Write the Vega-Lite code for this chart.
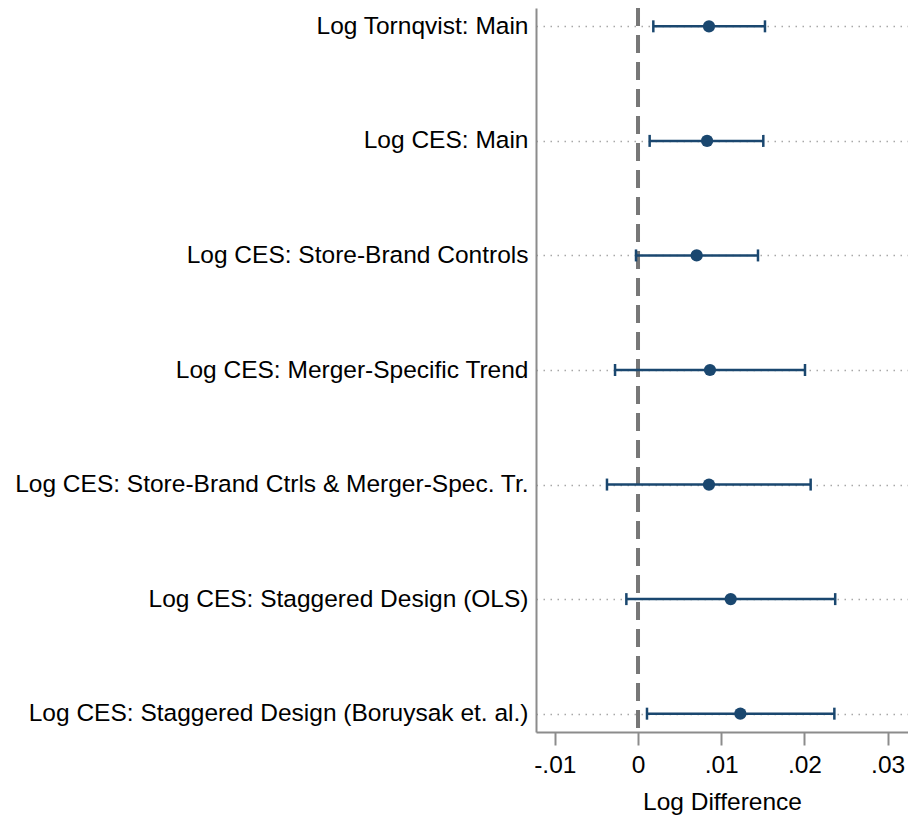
{
  "$schema": "https://vega.github.io/schema/vega-lite/v6.json",
  "autosize": "none",
  "padding": {"left": 536, "top": 8, "right": 0, "bottom": 87},
  "width": 372,
  "height": 724,
  "background": "white",
  "config": {
    "font": "Liberation Sans",
    "view": {"stroke": null}
  },
  "datasets": {
    "est": [
      {"label": "Log Tornqvist: Main", "b": 0.00853, "lo": 0.00184, "hi": 0.01526},
      {"label": "Log CES: Main", "b": 0.0083, "lo": 0.0014, "hi": 0.01506},
      {"label": "Log CES: Store-Brand Controls", "b": 0.00705, "lo": -0.00024, "hi": 0.01442},
      {"label": "Log CES: Merger-Specific Trend", "b": 0.00865, "lo": -0.00276, "hi": 0.02007},
      {"label": "Log CES: Store-Brand Ctrls & Merger-Spec. Tr.", "b": 0.00853, "lo": -0.00373, "hi": 0.02075},
      {"label": "Log CES: Staggered Design (OLS)", "b": 0.01114, "lo": -0.0014, "hi": 0.0237},
      {"label": "Log CES: Staggered Design (Boruysak et. al.)", "b": 0.0123, "lo": 0.00108, "hi": 0.0236}
    ],
    "ref": [{"x": 0}]
  },
  "layer": [
    {
      "data": {"name": "est"},
      "mark": {"type": "rule", "opacity": 0},
      "encoding": {
        "y": {
          "field": "label", "type": "nominal", "sort": null,
          "scale": {"type": "point", "padding": 0.16},
          "axis": {
            "title": null, "ticks": false, "labelPadding": 8, "labelFontSize": 24.5,
            "labelColor": "black", "labelLimit": 700,
            "domainColor": "#8c8c8c", "domainWidth": 2,
            "grid": true, "gridColor": "#a8a8a8", "gridDash": [1.5, 5.5], "gridWidth": 1.3
          }
        },
        "x": {
          "field": "b", "type": "quantitative",
          "scale": {"domain": [-0.01226, 0.03245], "nice": false, "zero": false},
          "axis": {
            "title": "Log Difference", "titleFontSize": 24.5, "titleFontWeight": "normal",
            "titleColor": "black", "titlePadding": 14,
            "values": [-0.01, 0, 0.01, 0.02, 0.03],
            "labelExpr": "datum.value == 0 ? '0' : replace(replace(format(datum.value, '.2f'), '0.', '.'), '−', '-')",
            "labelFontSize": 24.5, "labelColor": "black", "labelPadding": 8,
            "grid": false, "domainColor": "#8c8c8c", "domainWidth": 2,
            "tickColor": "#8c8c8c", "tickWidth": 2, "tickSize": 13
          }
        }
      }
    },
    {
      "data": {"name": "ref"},
      "mark": {"type": "rule", "color": "#777777", "strokeWidth": 4, "strokeDash": [18, 9]},
      "encoding": {"x": {"field": "x", "type": "quantitative"}}
    },
    {
      "data": {"name": "est"},
      "mark": {"type": "rule", "color": "#1a476f", "strokeWidth": 2.5},
      "encoding": {
        "y": {"field": "label", "type": "nominal", "sort": null},
        "x": {"field": "lo", "type": "quantitative"},
        "x2": {"field": "hi"}
      }
    },
    {
      "data": {"name": "est"},
      "mark": {"type": "tick", "color": "#1a476f", "opacity": 1, "thickness": 2.5, "size": 12, "orient": "vertical"},
      "encoding": {
        "y": {"field": "label", "type": "nominal", "sort": null},
        "x": {"field": "lo", "type": "quantitative"}
      }
    },
    {
      "data": {"name": "est"},
      "mark": {"type": "tick", "color": "#1a476f", "opacity": 1, "thickness": 2.5, "size": 12, "orient": "vertical"},
      "encoding": {
        "y": {"field": "label", "type": "nominal", "sort": null},
        "x": {"field": "hi", "type": "quantitative"}
      }
    },
    {
      "data": {"name": "est"},
      "mark": {"type": "point", "filled": true, "shape": "circle", "color": "#1a476f", "opacity": 1, "size": 150},
      "encoding": {
        "y": {"field": "label", "type": "nominal", "sort": null},
        "x": {"field": "b", "type": "quantitative"}
      }
    }
  ]
}
